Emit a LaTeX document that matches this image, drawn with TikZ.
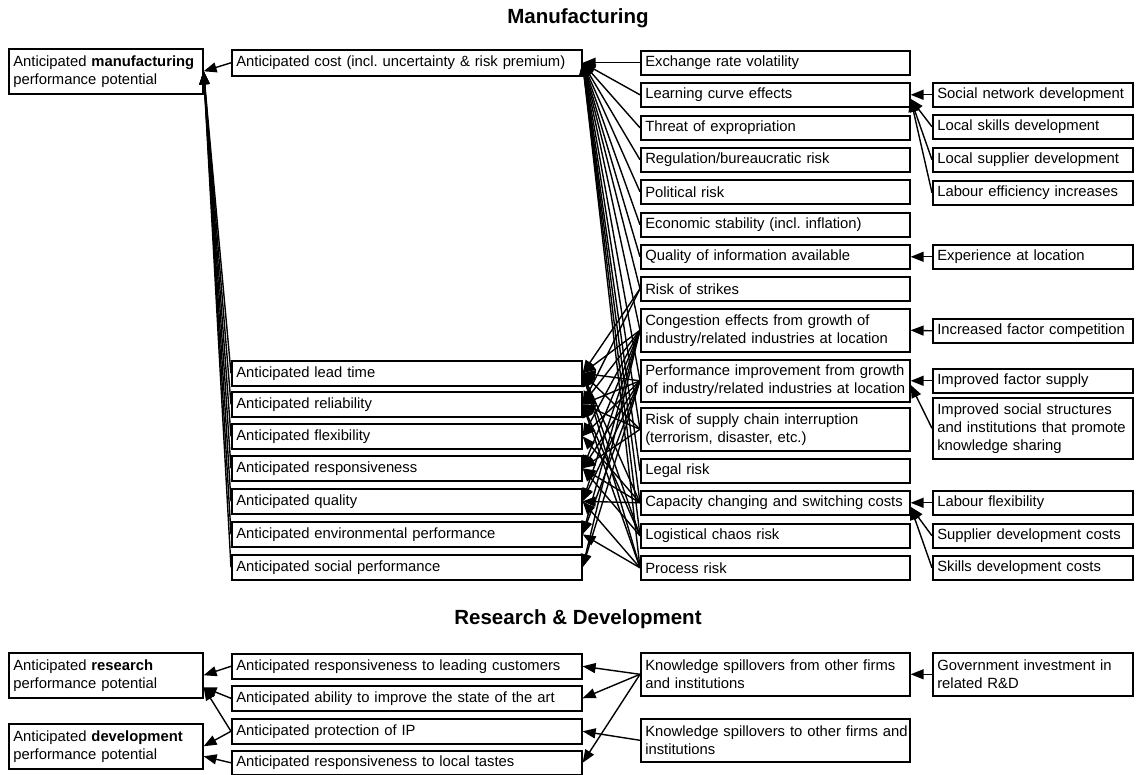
\documentclass[tikz,border=0pt]{standalone}
\usepackage{fontspec}
\setmainfont{Liberation Sans}
\frenchspacing
\usetikzlibrary{arrows.meta}
\tikzset{
 box/.style={draw, line width=1.6pt, anchor=north west, inner xsep=4.5pt, inner ysep=0pt, align=left, font=\fontsize{14.8}{18}\selectfont\frenchspacing},
 lcol/.style={box, text width=185pt},
 mlcol/.style={box, text width=341pt},
 mcol/.style={box, text width=260pt},
 rcol/.style={box, text width=191pt},
 arr/.style={line width=1.4pt, -{Triangle[length=13pt,width=10pt]}},
 ttl/.style={font=\fontsize{20.5}{24}\selectfont\bfseries}
}
\begin{document}
\begin{tikzpicture}[x=1pt,y=-1pt]
\useasboundingbox (0,0) rectangle (1136,775);
% titles
\node[ttl] (t1) at (578,18) {Manufacturing};
\node[ttl] (t2) at (578,619) {Research \& Development};
% left
\node[lcol, minimum height=45pt] (manuf) at (8,48) {\mbox{Anticipated \textbf{manufacturing}}\\performance potential};
% middle-left
\node[mlcol, minimum height=26pt] (cost) at (231,49) {Anticipated cost (incl. uncertainty \& risk premium)};
\node[mlcol, minimum height=25pt] (lead) at (231,360) {Anticipated lead time};
\node[mlcol, minimum height=25pt] (rel) at (231,391) {Anticipated reliability};
\node[mlcol, minimum height=25pt] (flex) at (231,423) {Anticipated flexibility};
\node[mlcol, minimum height=25pt] (resp) at (231,455) {Anticipated responsiveness};
\node[mlcol, minimum height=25pt] (qual) at (231,488) {Anticipated quality};
\node[mlcol, minimum height=25pt] (env) at (231,521) {Anticipated environmental performance};
\node[mlcol, minimum height=25pt] (soc) at (231,554) {Anticipated social performance};
% middle
\node[mcol, minimum height=24pt] (exch) at (640,50) {Exchange rate volatility};
\node[mcol, minimum height=24pt] (learn) at (640,82) {Learning curve effects};
\node[mcol, minimum height=24pt] (threat) at (640,115) {Threat of expropriation};
\node[mcol, minimum height=24pt] (reg) at (640,147) {Regulation/bureaucratic risk};
\node[mcol, minimum height=24pt] (pol) at (640,179) {Political risk};
\node[mcol, minimum height=24pt] (econ) at (640,212) {Economic stability (incl. inflation)};
\node[mcol, minimum height=24pt] (qinfo) at (640,244) {Quality of information available};
\node[mcol, minimum height=24pt] (strikes) at (640,276) {Risk of strikes};
\node[mcol, minimum height=43pt] (cong) at (640,308) {\mbox{Congestion effects from growth of}\\\mbox{industry/related industries at location}};
\node[mcol, minimum height=42pt] (perf) at (640,359) {\mbox{Performance improvement from growth}\\\mbox{of industry/related industries at location}};
\node[mcol, minimum height=43pt] (supply) at (640,407) {Risk of supply chain interruption\\(terrorism, disaster, etc.)};
\node[mcol, minimum height=24pt] (legal) at (640,458) {Legal risk};
\node[mcol, minimum height=24pt] (cap) at (640,490) {\mbox{Capacity changing and switching costs}};
\node[mcol, minimum height=24pt] (logi) at (640,523) {Logistical chaos risk};
\node[mcol, minimum height=24pt] (proc) at (640,555) {Process risk};
% right
\node[rcol, minimum height=24pt] (socnet) at (932,82) {\mbox{Social network development}};
\node[rcol, minimum height=24pt] (skills) at (932,114) {Local skills development};
\node[rcol, minimum height=24pt] (supplier) at (932,147) {\mbox{Local supplier development}};
\node[rcol, minimum height=24pt] (labour) at (932,180) {\mbox{Labour efficiency increases}};
\node[rcol, minimum height=24pt] (exper) at (932,244) {Experience at location};
\node[rcol, minimum height=24pt] (incfac) at (932,318) {\mbox{Increased factor competition}};
\node[rcol, minimum height=24pt] (impfac) at (932,368) {Improved factor supply};
\node[rcol, minimum height=61pt] (impsoc) at (932,397) {Improved social structures\\\mbox{and institutions that promote}\\knowledge sharing};
\node[rcol, minimum height=24pt] (labflex) at (932,490) {Labour flexibility};
\node[rcol, minimum height=24pt] (supdev) at (932,523) {\mbox{Supplier development costs}};
\node[rcol, minimum height=24pt] (skdev) at (932,555) {Skills development costs};
% R&D
\node[lcol, minimum height=45pt] (research) at (8,652) {Anticipated \textbf{research}\\performance potential};
\node[lcol, minimum height=45pt] (devel) at (8,723) {\mbox{Anticipated \textbf{development}}\\performance potential};
\node[mlcol, minimum height=25pt] (leadc) at (231,653) {Anticipated responsiveness to leading customers};
\node[mlcol, minimum height=25pt] (ability) at (231,685) {Anticipated ability to improve the state of the art};
\node[mlcol, minimum height=25pt] (ip) at (231,718) {Anticipated protection of IP};
\node[mlcol, minimum height=24pt] (tastes) at (231,750) {Anticipated responsiveness to local tastes};
\node[mcol, minimum height=43pt] (from) at (640,652) {\mbox{Knowledge spillovers from other firms}\\and institutions};
\node[mcol, minimum height=43pt] (to) at (640,718) {\mbox{Knowledge spillovers to other firms and}\\institutions};
\node[rcol, minimum height=43pt] (gov) at (932,652) {Government investment in\\related R\&D};
% manufacturing connectors
\foreach \s in {cost,lead,rel,flex,resp,qual,env,soc}
  \draw[arr] (\s.west) -- (manuf.east);
\foreach \s in {exch,learn,threat,reg,pol,econ,qinfo,strikes,cong,perf,supply,legal,cap,logi,proc}
  \draw[arr] (\s.west) -- (cost.east);
\foreach \s/\t in {strikes/lead,strikes/rel,
  cong/lead,cong/rel,cong/flex,cong/resp,cong/qual,cong/env,cong/soc,
  perf/lead,perf/rel,perf/flex,perf/resp,perf/qual,perf/env,perf/soc,
  supply/lead,supply/rel,supply/resp,
  cap/lead,cap/flex,cap/resp,cap/qual,
  logi/lead,logi/rel,logi/resp,
  proc/rel,proc/qual,proc/env,proc/lead}
  \draw[arr] (\s.west) -- (\t.east);
\draw[arr] (socnet.west) -- (learn.east);
\foreach \s in {skills,supplier,labour}
  \draw[arr] (\s.west) -- ([yshift=-4pt]learn.east);
\draw[arr] (exper.west) -- (qinfo.east);
\draw[arr] (incfac.west) -- (cong.east);
\draw[arr] (impfac.west) -- (perf.east);
\draw[arr] (impsoc.west) -- ([yshift=-4pt]perf.east);
\draw[arr] (labflex.west) -- (cap.east);
\foreach \s in {supdev,skdev}
  \draw[arr] (\s.west) -- ([yshift=-4pt]cap.east);
% R&D connectors
\draw[arr] (leadc.west) -- (research.east);
\draw[arr] (ability.west) -- ([yshift=-12pt]research.east);
\draw[arr] (ip.west) -- ([yshift=-12pt]research.east);
\draw[arr] (ip.west) -- (devel.east);
\draw[arr] (tastes.west) -- ([yshift=-10pt]devel.east);
\draw[arr] (from.west) -- (leadc.east);
\draw[arr] (from.west) -- (ability.east);
\draw[arr] (from.west) -- (tastes.east);
\draw[arr] (to.west) -- (ip.east);
\draw[arr] (gov.west) -- (from.east);
\end{tikzpicture}
\end{document}
